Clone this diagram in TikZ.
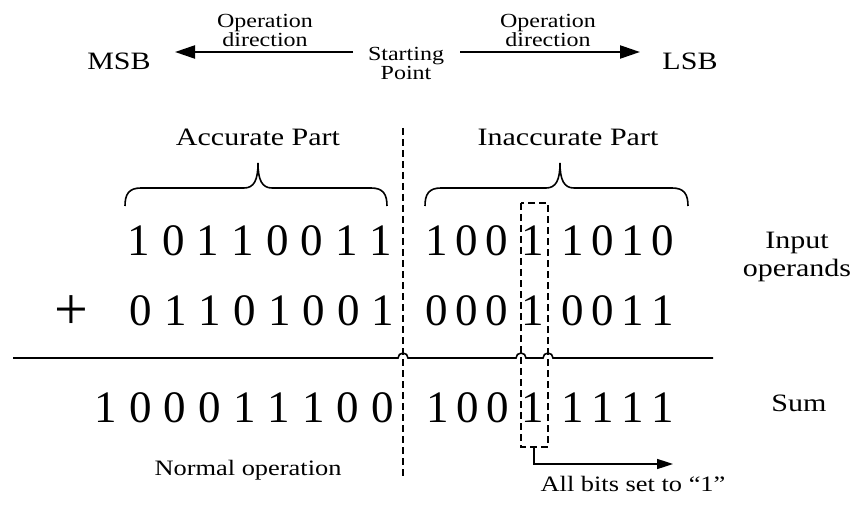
\documentclass[tikz,border=0pt]{standalone}
\usepackage{fontspec}
\setmainfont{Liberation Serif}
\newfontfamily\widefont[FakeStretch=1.2,Ligatures=TeX]{Liberation Serif}
\usetikzlibrary{arrows.meta}
\newcommand{\partbrace}[3] % left x, right x, tip x (in px)
{
	% hooks down to y=206, bar at y=188, tip up at y=163
	\draw[line width=1.6pt] (#1,206) .. controls (#1,194) and (#1+4,188) .. (#1+16,188)
		-- (#3-14,188) .. controls (#3-4,188) and (#3,180) .. (#3,163)
		.. controls (#3,180) and (#3+4,188) .. (#3+14,188)
		-- (#2-16,188) .. controls (#2-4,188) and (#2,194) .. (#2,206);
}

\begin{document}
\begin{tikzpicture}[x=1pt,y=-1pt,
	bit/.style={font=\fontsize{45}{45}\selectfont},
	lbl/.style={font=\widefont\fontsize{25}{28}\selectfont,align=center,inner sep=0pt},
	small/.style={font=\widefont\fontsize{20}{17}\selectfont,align=center,inner sep=0pt},
	opdir/.style={line width=2.2pt,-{Triangle[length=20pt,width=13pt]}},
	cut/.style={line width=1.6pt,dash pattern=on 7pt off 4pt}]
	% 865 x 505 px, 1px = 1pt
	\useasboundingbox (0,0) rectangle (865,505);

	% top: operation direction
	\node[lbl] (msb) at (119,61) {MSB};
	\node[lbl] (lsb) at (690,61) {LSB};
	\node[small,anchor=north,font=\widefont\fontsize{20}{19}\selectfont] (start) at (406,47) {Starting\\Point};
	\node[small,anchor=north] (dirl) at (265,14) {Operation\\direction};
	\node[small,anchor=north] (dirr) at (548,14) {Operation\\direction};
	\coordinate (startl) at (353,52);
	\coordinate (startr) at (460,52);
	\draw[opdir] (startl) -- (175,52);
	\draw[opdir] (startr) -- (640,52);

	% parts
	\node[lbl] (acc) at (258,137) {Accurate Part};
	\node[lbl] (inacc) at (568,137) {Inaccurate Part};
	\partbrace{125}{387}{258};
	\partbrace{425}{688}{560};

	% operands
	\foreach \b [count=\i] in {1,0,1,1,0,0,1,1}
		\node[bit] (a\i) at ({139+34.6*(\i-1)},241) {\b};
	\foreach \b/\x [count=\i] in {1/437,0/467,0/497,1/533,1/573,0/603,1/633,0/663}
		\node[bit] (ai\i) at (\x,241) {\b};
	\node[font=\fontsize{60}{60}\selectfont] (plus) at (71,313) {+};
	\foreach \b [count=\i] in {0,1,1,0,1,0,0,1}
		\node[bit] (b\i) at ({141+34.6*(\i-1)},311) {\b};
	\foreach \b/\x [count=\i] in {0/437,0/467,0/497,1/533,0/573,0/603,1/633,1/663}
		\node[bit] (bi\i) at (\x,311) {\b};
	\node[lbl] (inp) at (797,257) {Input\\operands};

	% rule with hops over the dashed lines
	\draw[line width=1.6pt] (13,358) -- (398,358) arc (180:360:5) -- (516,358) arc (180:360:5)
		-- (543,358) arc (180:360:5) -- (713,358);

	% sum
	\foreach \b [count=\i] in {1,0,0,0,1,1,1,0,0}
		\node[bit] (s\i) at ({106+34.6*(\i-1)},408) {\b};
	\foreach \b/\x [count=\i] in {1/438,0/468,0/498,1/533,1/573,1/603,1/633,1/663}
		\node[bit] (si\i) at (\x,408) {\b};
	\node[lbl] (sum) at (799,403) {Sum};

	% split line and forced bit
	\draw[cut] (403,128) -- (403,478);
	\draw[cut] (521,203) rectangle (548,447);
	\coordinate (boxbot) at (534,447);
	\draw[line width=1.6pt,-{Triangle[length=16pt,width=10pt]}] (boxbot) |- (673,464);

	\node[small,font=\widefont\fontsize{22}{22}\selectfont] (normal) at (248,470) {Normal operation};
	\node[small,font=\widefont\fontsize{22}{22}\selectfont] (allone) at (633,484) {All bits set to “1”};
\end{tikzpicture}
\end{document}
